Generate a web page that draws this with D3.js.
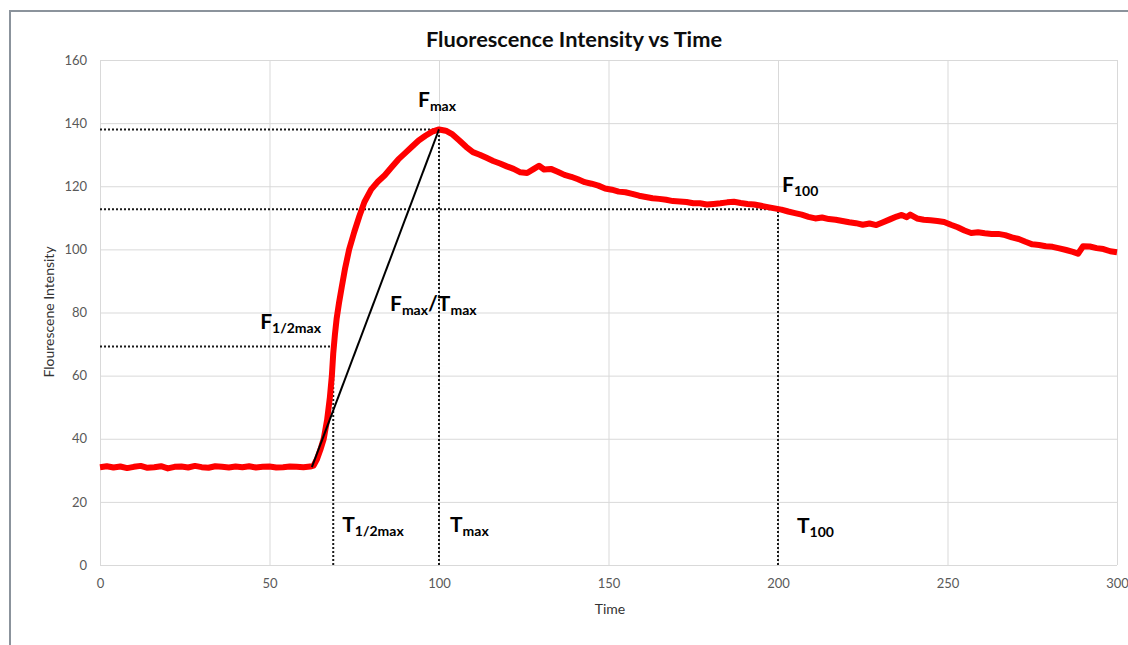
<!DOCTYPE html>
<html>
<head>
<meta charset="utf-8">
<script src="https://d3js.org/d3.v7.min.js"></script>
<style>
  body { margin: 0; background: #fff; overflow: hidden; }
  svg { display: block; font-family: Lato, "Open Sans", sans-serif; }
</style>
</head>
<body>
<div id="chart"></div>
<script>
width = 1128;
height = 645;

// time points and intensity
var time = [0,2,4,6,8,10,12,14,16,18,20,22,24,26,28,30,32,34,36,38,40,42,44,46,48,50,52,54,56,58,60,62,
  63,64,65,66,67,67.8,68.4,68.8,69.3,69.8,70.5,71.3,72.3,73.5,75,76.5,78,80,82,84,86,88,90,92,94,96,98,100,
  102,104,106,108,110,112,114,116,118,120,122,124,126,128,129.5,131,133,135,137,139,141,143,145,147,149,
  151,153,155,157,159,161,163,165,167,169,171,173,175,177,179,181,183,185,187,189,191,193,195,197,199,
  201,203,205,207,209,211,213,215,217,219,221,223,225,227,229,231,233,235,236.5,238,239,241,243,245,247,249,
  251,253,255,257,259,261,263,265,267,269,271,273,275,277,279,281,283,285,287,288.5,290,292,294,296,298,300];
var intensity = [31.0,31.3,30.9,31.2,30.7,31.1,31.4,30.8,31.0,31.3,30.6,31.1,31.2,30.9,31.4,31.0,30.8,31.3,31.1,30.9,31.2,31.0,31.3,30.9,31.1,31.2,30.9,31.0,31.2,31.1,31.0,31.2,
  31.5,33.5,36.5,40,46,53,60,67,73,78,83,88,94,100,105.5,110.5,115,119,121.5,123.5,126,128.5,130.5,132.5,134.5,136,137.3,138,
  137.6,136.4,134.5,132.5,130.8,130,129,128,127.2,126.3,125.5,124.4,124.2,125.5,126.5,125.3,125.5,124.6,123.6,123,122.2,121.3,120.8,120.2,119.3,
  118.9,118.3,118.1,117.6,117,116.6,116.2,116.0,115.7,115.3,115.2,115,114.6,114.6,114.2,114.4,114.6,114.9,115.1,114.7,114.4,114.2,113.8,113.4,113,
  112.6,112,111.5,111,110.3,109.8,110.1,109.6,109.4,109.0,108.6,108.3,107.8,108.2,107.7,108.6,109.5,110.4,110.9,110.2,111,109.8,109.4,109.2,109,108.7,
  107.8,107,106,105.2,105.4,105.1,104.9,104.9,104.5,103.8,103.3,102.4,101.6,101.4,101,100.8,100.3,99.8,99.2,98.6,101,100.9,100.4,100.1,99.4,99.1];

var xTicks = [0, 50, 100, 150, 200, 250, 300];
var yTicks = [0, 20, 40, 60, 80, 100, 120, 140, 160];

// key points of the curve
var tStart = 62.5, fStart = 31;
var tHalf = 68.8, fHalf = 69.2;
var tMax = 100, fMax = 138;
var t100 = 200, f100 = 112.7;

var svg = d3.select("#chart").append("svg")
  .attr("width", width)
  .attr("height", height);

// outer chart frame, only top and left edges are in the picture
svg.append("path")
  .attr("d", "M10,645 L10,11 L1128,11")
  .attr("fill", "none")
  .attr("stroke", "#8b939c")
  .attr("stroke-width", 2);

var x = d3.scaleLinear().domain([0, 300]).range([100, 1117]);
var y = d3.scaleLinear().domain([0, 160]).range([565, 60]);

// gridlines
svg.append("g")
  .attr("transform", "translate(0," + y(0) + ")")
  .call(d3.axisBottom(x).tickValues(xTicks).tickSize(-(y(0) - y(160))).tickFormat(""))
  .call(g => g.select(".domain").remove())
  .call(g => g.selectAll("line").attr("stroke", "#d9d9d9"));
svg.append("g")
  .attr("transform", "translate(" + x(0) + ",0)")
  .call(d3.axisLeft(y).tickValues(yTicks).tickSize(-(x(300) - x(0))).tickFormat(""))
  .call(g => g.select(".domain").remove())
  .call(g => g.selectAll("line").attr("stroke", "#d9d9d9"));

// tick labels
svg.append("g")
  .attr("transform", "translate(0," + y(0) + ")")
  .call(d3.axisBottom(x).tickValues(xTicks).tickSize(0).tickPadding(14))
  .call(g => g.select(".domain").remove())
  .call(g => g.selectAll("text").attr("fill", "#595959").style("font-size", "13px").style("font-family", "Lato, sans-serif"));
svg.append("g")
  .attr("transform", "translate(" + x(0) + ",0)")
  .call(d3.axisLeft(y).tickValues(yTicks).tickSize(0).tickPadding(13))
  .call(g => g.select(".domain").remove())
  .call(g => g.selectAll("text").attr("fill", "#595959").style("font-size", "13px").style("font-family", "Lato, sans-serif"));

// title and axis titles
svg.append("text")
  .attr("x", 574).attr("y", 47)
  .attr("text-anchor", "middle")
  .style("font-size", "21.8px").style("font-weight", "bold")
  .attr("fill", "#0d0d0d")
  .text("Fluorescence Intensity vs Time");
svg.append("text")
  .attr("x", 610).attr("y", 614)
  .attr("text-anchor", "middle")
  .style("font-size", "14px")
  .attr("fill", "#333")
  .text("Time");
svg.append("text")
  .attr("transform", "translate(54," + 312 + ") rotate(-90)")
  .attr("text-anchor", "middle")
  .style("font-size", "14px")
  .attr("fill", "#333")
  .text("Flourescene Intensity");

// dotted guide lines
var guides = [
  { x1: 0, y1: fMax, x2: tMax, y2: fMax },
  { x1: 0, y1: f100, x2: t100, y2: f100 },
  { x1: 0, y1: fHalf, x2: tHalf, y2: fHalf },
  { x1: tMax, y1: 0, x2: tMax, y2: fMax },
  { x1: t100, y1: 0, x2: t100, y2: f100 },
  { x1: tHalf, y1: 0, x2: tHalf, y2: fHalf }
];
svg.selectAll(".guide")
  .data(guides)
  .join("line")
  .attr("class", "guide")
  .attr("x1", d => x(d.x1)).attr("y1", d => y(d.y1))
  .attr("x2", d => x(d.x2)).attr("y2", d => y(d.y2))
  .attr("stroke", "#1a1a1a")
  .attr("stroke-width", 2)
  .attr("stroke-dasharray", "2,2");

// the measured curve
var pts = time.map((t, i) => [t, intensity[i]]);
svg.append("path")
  .datum(pts)
  .attr("d", d3.line().x(d => x(d[0])).y(d => y(d[1])))
  .attr("fill", "none")
  .attr("stroke", "#ff0000")
  .attr("stroke-width", 6)
  .attr("stroke-linejoin", "round");

// slope line Fmax/Tmax
svg.append("line")
  .attr("x1", x(tStart)).attr("y1", y(fStart))
  .attr("x2", x(tMax)).attr("y2", y(fMax))
  .attr("stroke", "#000")
  .attr("stroke-width", 2);

// annotation labels: main letter + subscript
function label(px, py, parts) {
  var t = svg.append("text")
    .attr("x", px).attr("y", py)
    .attr("fill", "#000")
    .style("font-weight", "bold");
  parts.forEach(function (p) {
    t.append("tspan")
      .style("font-size", p.sub ? "14px" : "21px")
      .attr("dy", p.dy || 0)
      .text(p.s);
  });
}
label(x(tMax) - 21, y(fMax) - 22, [{ s: "F" }, { s: "max", sub: true, dy: 4 }]);
label(x(t100) + 4, y(f100) - 17, [{ s: "F" }, { s: "100", sub: true, dy: 4 }]);
label(x(tHalf) - 73, y(fHalf) - 18, [{ s: "F" }, { s: "1/2max", sub: true, dy: 4 }]);
label(x(tMax) - 49, y(80) - 2, [{ s: "F" }, { s: "max", sub: true, dy: 4 }, { s: "/", dy: -4 }, { s: "T" }, { s: "max", sub: true, dy: 4 }]);
label(x(tHalf) + 9, y(0) - 33, [{ s: "T" }, { s: "1/2max", sub: true, dy: 4 }]);
label(x(tMax) + 11, y(0) - 33, [{ s: "T" }, { s: "max", sub: true, dy: 4 }]);
label(x(t100) + 19, y(0) - 32, [{ s: "T" }, { s: "100", sub: true, dy: 4 }]);
</script>
</body>
</html>
